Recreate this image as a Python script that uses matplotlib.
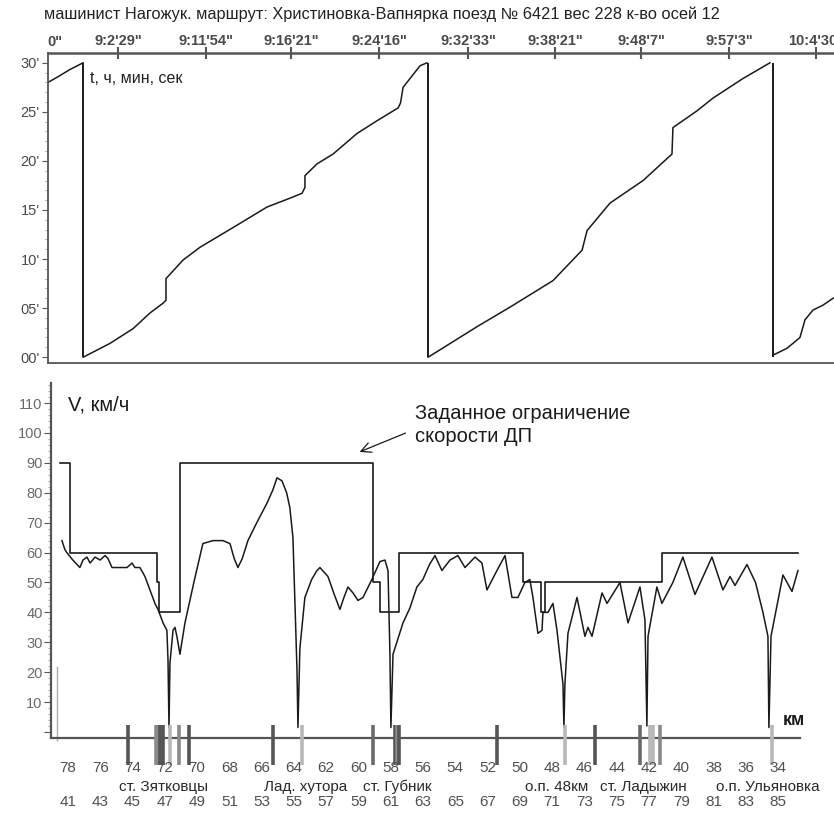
import matplotlib
matplotlib.use("Agg")
import matplotlib.pyplot as plt

plt.rcParams['font.family'] = ['Liberation Sans', 'DejaVu Sans']

# --- data -------------------------------------------------------------
title = "машинист Нагожук. маршрут: Христиновка-Вапнярка поезд № 6421 вес 228 к-во осей 12"

# time marks on the upper axis (x in km of the lower scale)
time_pos = [44.10, 49.55, 54.82, 60.27, 65.78, 71.17, 76.50, 81.95, 87.34]
time_labels = ['9:2\'29"', '9:11\'54"', '9:16\'21"', '9:24\'16"', '9:32\'33"',
               '9:38\'21"', '9:48\'7"', '9:57\'3"', '10:4\'30"']

# minutes counter (saw-tooth), one list per tooth
t1_x = [39.76, 40.40, 41.10, 41.93]
t1_m = [28.0, 28.6, 29.3, 30.0]
t2_x = [41.95, 43.60, 45.03, 46.08, 46.89, 47.07, 47.07, 48.13, 49.18, 51.22, 53.33,
        54.75, 55.50, 55.68, 55.68, 56.43, 57.42, 58.91, 60.15, 61.45, 61.60, 61.76,
        62.81, 63.24]
t2_m = [0.0, 1.4, 2.9, 4.5, 5.5, 5.8, 8.0, 9.9, 11.2, 13.2, 15.3,
        16.2, 16.7, 17.3, 18.5, 19.7, 20.7, 22.8, 24.1, 25.4, 25.9, 27.5,
        29.7, 30.0]
t3_x = [63.30, 63.42, 66.34, 68.39, 71.05, 72.85, 73.16, 74.58, 76.63, 78.42, 78.48,
        79.97, 80.96, 82.82, 84.49]
t3_m = [0.0, 0.1, 3.1, 5.1, 7.8, 10.9, 12.9, 15.7, 18.0, 20.7, 23.4,
        25.1, 26.4, 28.4, 30.0]
t4_x = [84.68, 85.55, 86.35, 86.66, 87.16, 87.78, 88.40, 89.00]
t4_m = [0.2, 0.9, 2.0, 3.8, 4.8, 5.3, 6.0, 6.3]
drop_x = [41.94, 63.28, 84.66]

# speed, km/h
speed_x = [40.63, 40.81, 40.93, 41.30, 41.74, 41.93, 42.18, 42.37, 42.68, 42.99, 43.30,
           43.48, 43.73, 44.66, 44.97, 45.15, 45.46, 45.77, 46.08, 46.39, 46.58, 46.89,
           47.13, 47.20, 47.26, 47.32, 47.51, 47.63, 47.75, 47.94, 48.25, 48.80, 49.36,
           49.98, 50.60, 51.04, 51.30, 51.53, 51.80, 52.15, 52.70, 53.33, 53.70, 53.95,
           54.26, 54.55, 54.75, 54.94, 55.19, 55.25, 55.37, 55.68, 56.10, 56.43, 56.61,
           57.11, 57.50, 57.85, 58.10, 58.35, 58.66, 58.97, 59.28, 59.83, 60.33, 60.64,
           60.83, 60.95, 61.01, 61.14, 61.76, 62.19, 62.62, 62.99, 63.40, 63.74, 64.17,
           64.67, 65.16, 65.60, 66.22, 66.65, 66.96, 67.58, 68.08, 68.51, 68.88, 69.31,
           69.62, 69.81, 70.12, 70.37, 70.43, 70.74, 71.05, 71.30, 71.67, 71.73, 71.79,
           71.98, 72.54, 73.03, 73.22, 73.47, 74.09, 74.40, 75.20, 75.70, 76.44, 76.75,
           76.87, 76.94, 77.49, 77.80, 78.48, 79.10, 79.85, 80.90, 81.58, 82.02, 82.33,
           83.07, 83.60, 84.06, 84.37, 84.43, 84.56, 85.30, 85.86, 86.23]
speed_v = [64, 61, 60, 57.5, 55, 57.5, 58.5, 56.5, 58.5, 57.5, 59,
           58, 55, 55, 56.5, 55, 55, 52, 47.5, 43, 41, 36.5,
           34, 24, 1.5, 23, 34, 35, 32, 26, 36.5, 50, 63,
           64, 64, 63, 58, 55, 58, 64, 70, 76.5, 81, 85,
           84, 80, 75, 65, 21, 1.5, 28, 45, 51, 54, 55,
           52, 46, 41, 45, 48.5, 46.5, 44, 45, 51, 57, 57.5,
           54, 26, 1.5, 26, 36.5, 41.5, 48.5, 51, 56, 59, 54,
           57.5, 59, 55, 58.5, 56.5, 47.5, 54, 59, 45, 45, 50,
           51, 45, 33, 34, 40, 40, 43, 34, 16, 1.5, 16,
           33, 45, 32, 35, 32, 46.5, 43, 50, 36.5, 48.5, 37.5,
           2, 32, 48.5, 43, 50, 58.5, 46, 58.5, 47.5, 52, 49,
           56, 50, 40, 32, 1.5, 32, 52.5, 47, 54]

# speed limit (step, value holds until next x)
limit_x = [40.50, 41.12, 46.51, 46.64, 47.94, 59.90, 60.33, 61.51, 69.19, 70.31, 70.55, 77.80, 86.23]
limit_v = [90, 60, 50, 40, 90, 50, 40, 60, 50, 40, 50, 60, 60]

# track objects (bars on the km axis)
bar_x = [44.72, 46.45, 46.58, 46.70, 46.89, 47.32, 47.88, 48.50, 53.70, 55.50, 59.90,
         61.26, 61.40, 61.50, 67.58, 71.79, 73.65, 76.44, 77.06, 77.25, 77.68, 84.62]
bar_c = ['#555555', '#8a8a8a', '#8a8a8a', '#555555', '#555555', '#b8b8b8', '#8a8a8a',
         '#555555', '#555555', '#b8b8b8', '#6a6a6a', '#555555', '#8a8a8a', '#555555',
         '#555555', '#b8b8b8', '#555555', '#6a6a6a', '#b8b8b8', '#b8b8b8', '#8a8a8a',
         '#b8b8b8']

km_pos = list(range(41, 86, 2))
km_forward = [str(k) for k in km_pos]
km_back = [str(119 - k) for k in km_pos]

stations = ['ст. Зятковцы', 'Лад. хутора', 'ст. Губник', 'о.п. 48км', 'ст. Ладыжин', 'о.п. Ульяновка']
station_x = [46.89, 55.75, 61.38, 71.30, 76.63, 84.37]

line_c = '#1a1a1a'
axis_c = '#555555'
label_c = '#4a4a4a'

W, H = 834, 813
fig = plt.figure(figsize=(W / 100, H / 100), dpi=100)

# --- upper panel: time counter ---------------------------------------
ax1 = fig.add_axes([48 / W, 1 - 363 / H, (900 - 48) / W, (363 - 53) / H])
ax1.set_xlim(39.76, 39.76 + 852 / 16.14)
ax1.set_ylim(-0.6, 31.0)
for x, m in [(t1_x, t1_m), (t2_x, t2_m), (t3_x, t3_m), (t4_x, t4_m)]:
    ax1.plot(x, m, color=line_c, lw=1.1)
ax1.vlines(drop_x, 0, 30, color=line_c, lw=1.4)

ax1.spines['right'].set_visible(False)
for s in ['left', 'top', 'bottom']:
    ax1.spines[s].set_color(axis_c)
    ax1.spines[s].set_linewidth(1.3)
ax1.spines['top'].set_linewidth(1.8)

ax1.set_yticks([0, 5, 10, 15, 20, 25, 30])
ax1.set_yticklabels(["00'", "05'", "10'", "15'", "20'", "25'", "30'"], fontsize=10.5,
                    color=label_c)
ax1.set_yticks(range(0, 31), minor=True)
ax1.tick_params(axis='y', which='major', length=4, color=axis_c, pad=2)
ax1.tick_params(axis='y', which='minor', length=2, color='#999999')

ax1.xaxis.tick_top()
ax1.set_xticks(time_pos)
ax1.set_xticklabels(time_labels, fontsize=10.5, color=label_c, fontweight='bold')
ax1.tick_params(axis='x', which='major', direction='inout', length=9, width=1.5,
                color=axis_c, pad=-1)
ax1.text(40.19, 1.035, '0"', transform=ax1.get_xaxis_transform(), ha='center', va='center',
         fontsize=10.5, color=label_c, fontweight='bold')
ax1.text(42.36, 28.35, 't, ч, мин, сек', fontsize=11.5, color='#222222', va='center')

fig.text(382 / W, 1 - 14 / H, title, ha='center', va='center', fontsize=11.8, color='#222222')

# --- lower panel: speed ----------------------------------------------
ax2 = fig.add_axes([51 / W, 1 - 738 / H, (800 - 51) / W, (738 - 383) / H])
ax2.set_xlim(39.95, 39.95 + 749 / 16.14)
ax2.set_ylim(-2.0, 116.7)

ax2.plot(limit_x, limit_v, drawstyle='steps-post', color=line_c, lw=1.2)
ax2.plot(speed_x, speed_v, color=line_c, lw=1.1)

ax2.vlines(bar_x, -11, 2.5, colors=bar_c, lw=2.6, clip_on=False, zorder=3)
ax2.vlines([40.32], -3, 22, colors='#aaaaaa', lw=1.0, clip_on=False)

for s in ['right', 'top']:
    ax2.spines[s].set_visible(False)
for s in ['left', 'bottom']:
    ax2.spines[s].set_color(axis_c)
    ax2.spines[s].set_linewidth(1.6)

ax2.set_xticks([])
ax2.set_yticks(range(0, 111, 10))
ax2.set_yticklabels([''] + [str(v) for v in range(10, 111, 10)], fontsize=10.5, color='#6a6a6a')
ax2.set_yticks(range(0, 117, 2), minor=True)
ax2.tick_params(axis='y', which='major', length=5, color=axis_c, pad=1)
ax2.tick_params(axis='y', which='minor', length=2, color='#999999')

ax2.text(41.0, 109.4, 'V, км/ч', fontsize=14.5, color='#1a1a1a', va='center')
ax2.text(86.0, 4.0, 'км', fontsize=13, color='#1a1a1a', ha='center', va='center',
         fontweight='bold', clip_on=False)
ax2.text(62.5, 102.7, 'Заданное ограничение\nскорости ДП', fontsize=14.5, color='#1a1a1a',
         va='center', ha='left', linespacing=1.25)
ax2.annotate('', xy=(58.91, 93.3), xytext=(62.07, 100.3),
             arrowprops=dict(arrowstyle='->', color='#1a1a1a', lw=0.9, mutation_scale=18))

for k, a, b in zip(km_pos, km_back, km_forward):
    ax2.text(k, -12.0, a, ha='center', va='center', fontsize=11, color='#505050', clip_on=False)
    ax2.text(k, -23.4, b, ha='center', va='center', fontsize=11, color='#505050', clip_on=False)
for x, name in zip(station_x, stations):
    ax2.text(x, -18.3, name, ha='center', va='center', fontsize=11, color='#2a2a2a', clip_on=False)

fig.savefig('out.png', dpi=100, facecolor='white')
